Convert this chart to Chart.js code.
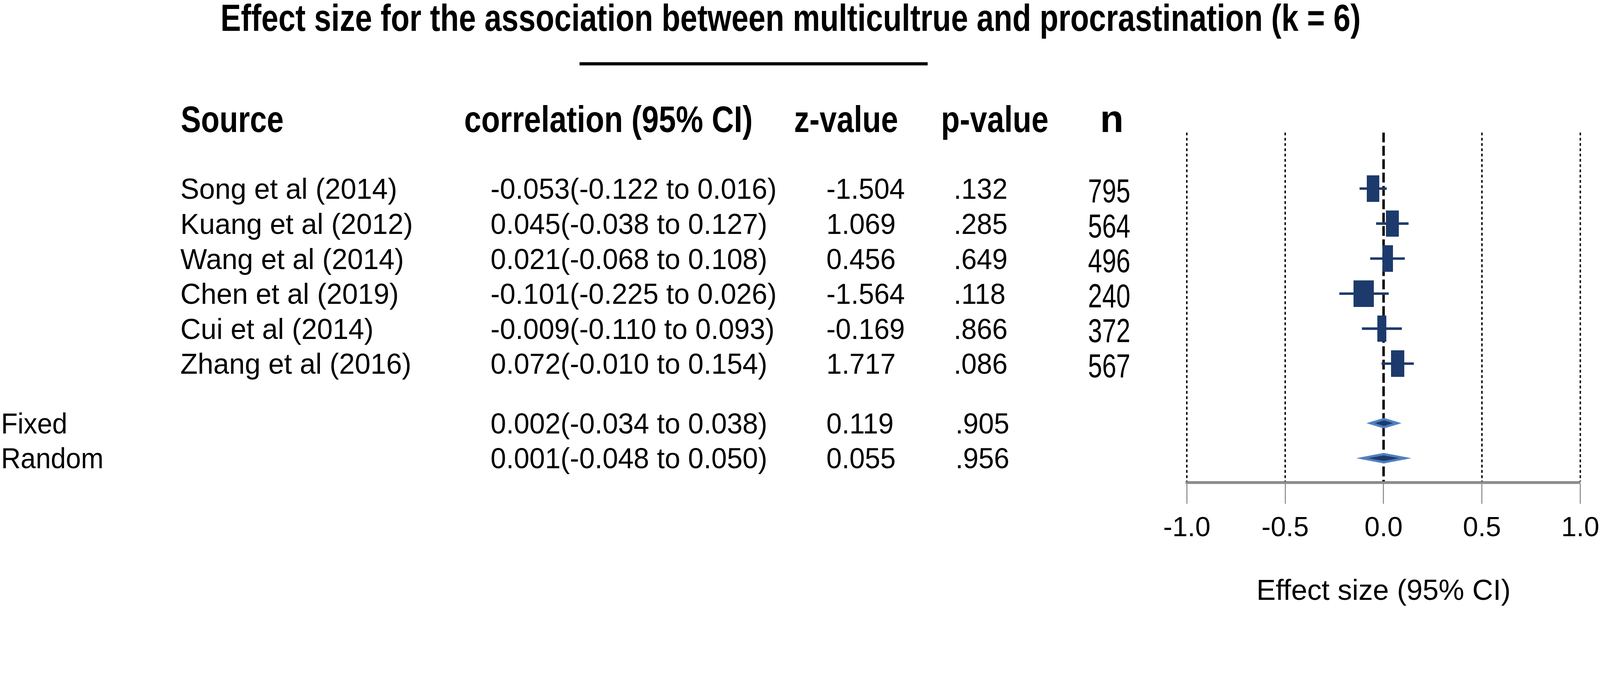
<!DOCTYPE html>
<html lang="en">
<head>
  <meta charset="UTF-8">
  <title>Multiculture and procrastination - forest plot</title>
  <script src="https://cdn.jsdelivr.net/npm/chart.js"></script>
  <style>
    html, body {
      margin: 0;
      background: #fff;
      overflow: hidden;
      font-family: "Liberation Sans", Arial, sans-serif;
    }
    #page {
      position: relative;
      width: 4550px;
      height: 1731px;
      overflow: hidden;
      transform-origin: 0 0;
    }
    #forest {
      position: absolute;
      left: 0;
      top: 0;
    }
    .cell {
      position: absolute;
      white-space: nowrap;
      line-height: 1;
      color: #000;
      transform-origin: 0 0;
    }
    .bold { font-weight: bold; }
    #rule {
      position: absolute;
      left: 1648px;
      top: 177px;
      width: 990px;
      height: 9px;
      background: #000;
    }
  </style>
</head>
<body>
  <div id="page">
    <canvas id="forest" width="4550" height="1731"></canvas>
    <div id="rule"></div>
  </div>

  <script>
    // Study rows
    const studies = ['Song et al (2014)', 'Kuang et al (2012)', 'Wang et al (2014)',
                     'Chen et al (2019)', 'Cui et al (2014)', 'Zhang et al (2016)'];
    const corr   = [-0.053, 0.045, 0.021, -0.101, -0.009, 0.072];
    const ciLow  = [-0.122, -0.038, -0.068, -0.225, -0.110, -0.010];
    const ciHigh = [0.016, 0.127, 0.108, 0.026, 0.093, 0.154];
    const zVals  = [-1.504, 1.069, 0.456, -1.564, -0.169, 1.717];
    const pVals  = [0.132, 0.285, 0.649, 0.118, 0.866, 0.086];
    const sampleN = [795, 564, 496, 240, 372, 567];

    // Pooled models
    const models    = ['Fixed', 'Random'];
    const modelCorr = [0.002, 0.001];
    const modelLow  = [-0.034, -0.048];
    const modelHigh = [0.038, 0.050];
    const modelZ    = [0.119, 0.055];
    const modelP    = [0.905, 0.956];

    // x axis ticks
    const xTicks = [-1.0, -0.5, 0.0, 0.5, 1.0];

    // ---- layout / style (not data) ----
    const FONT = '"Liberation Sans", Arial, sans-serif';
    const NAVY = '#1d3a6c';
    const LIGHT = '#4f7fc0';
    const modelRows = [6.7, 7.7];              // row slots of pooled estimates
    const boxWidths = [36, 36, 30, 57, 25, 38];  // marker box widths (px)
    const diamondSizes = [[100, 30, 52, 16], [157, 30, 88, 16]];
    const col = { source: 513, model: 3, corr: 1395, z: 2350, p: 2712, n: 3094 };

    // the whole figure is laid out on a 4550 x 1731 sheet, fitted to the window
    const page = document.getElementById('page');
    const fit = Math.min(window.innerWidth / 4550, window.innerHeight / 1731);
    page.style.transform = 'scale(' + fit + ')';

    const f3 = v => v.toFixed(3);
    const pFmt = v => v.toFixed(3).replace(/^0/, '');

    function boxImage(w, h) {
      const c = document.createElement('canvas');
      c.width = w; c.height = h;
      const g = c.getContext('2d');
      g.fillStyle = NAVY;
      g.fillRect(0, 0, w, h);
      return c;
    }

    function diamondImage(w, h, iw, ih) {
      const c = document.createElement('canvas');
      c.width = w; c.height = h;
      const g = c.getContext('2d');
      const diamond = (dw, dh, color) => {
        g.beginPath();
        g.moveTo(w / 2 - dw / 2, h / 2);
        g.lineTo(w / 2, h / 2 - dh / 2);
        g.lineTo(w / 2 + dw / 2, h / 2);
        g.lineTo(w / 2, h / 2 + dh / 2);
        g.closePath();
        g.fillStyle = color;
        g.fill();
      };
      diamond(w, h, LIGHT);
      diamond(iw, ih, NAVY);
      return c;
    }

    const boxImgs = boxWidths.map(w => boxImage(w, 75));
    const diamondImgs = diamondSizes.map(d => diamondImage(d[0], d[1], d[2], d[3]));

    // dotted reference lines at each tick, dashed line of no effect at 0
    const refLines = {
      id: 'refLines',
      beforeDatasetsDraw(chart) {
        const { ctx, chartArea, scales } = chart;
        ctx.save();
        scales.x.ticks.forEach(t => {
          const px = scales.x.getPixelForValue(t.value);
          ctx.beginPath();
          if (t.value === 0) {
            ctx.lineWidth = 7;
            ctx.setLineDash([28, 10]);
          } else {
            ctx.lineWidth = 4;
            ctx.setLineDash([8, 7]);
          }
          ctx.strokeStyle = '#000';
          ctx.moveTo(px, chartArea.top);
          ctx.lineTo(px, chartArea.bottom - 4);
          ctx.stroke();
        });
        ctx.restore();
      }
    };

    const ciSets = studies.map((s, i) => ({
      label: s + ' CI',
      data: [{ x: ciLow[i], y: i }, { x: ciHigh[i], y: i }],
      showLine: true,
      borderColor: NAVY,
      borderWidth: 7,
      pointRadius: 0
    }));

    const chart = new Chart(document.getElementById('forest'), {
      type: 'scatter',
      data: {
        datasets: [
          ...ciSets,
          {
            label: 'Studies',
            data: corr.map((c, i) => ({ x: c, y: i })),
            pointStyle: ctx => boxImgs[ctx.dataIndex],
            pointRadius: 20
          },
          {
            label: 'Pooled',
            data: modelCorr.map((c, i) => ({ x: c, y: modelRows[i] })),
            pointStyle: ctx => diamondImgs[ctx.dataIndex],
            pointRadius: 20
          }
        ]
      },
      options: {
        responsive: false,
        devicePixelRatio: fit * (window.devicePixelRatio || 1),
        animation: false,
        events: [],
        layout: { padding: { left: 3375, right: 56, top: 377, bottom: 0 } },
        plugins: {
          legend: { display: false },
          tooltip: { enabled: false }
        },
        scales: {
          x: {
            type: 'linear',
            min: -1,
            max: 1,
            afterBuildTicks: s => { s.ticks = xTicks.map(v => ({ value: v })); },
            afterFit: s => {
              s.height = 358;
              // end labels may hang into the page margin
              s.paddingLeft = 0;
              s.paddingRight = 0;
            },
            ticks: {
              callback: v => v.toFixed(1),
              font: { family: FONT, size: 78, lineHeight: 1 },
              color: '#000',
              padding: 32,
              maxRotation: 0,
              autoSkip: false
            },
            grid: {
              drawOnChartArea: false,
              drawTicks: true,
              tickLength: 60,
              tickColor: '#8c8c8c',
              tickWidth: 3
            },
            border: { display: true, color: '#8c8c8c', width: 8 },
            title: {
              display: true,
              text: 'Effect size (95% CI)',
              color: '#000',
              font: { family: FONT, size: 82, lineHeight: 1 },
              padding: { top: 0, bottom: 6 }
            }
          },
          y: {
            type: 'linear',
            reverse: true,
            min: -1.6,
            max: 8.4,
            display: false
          }
        }
      },
      plugins: [refLines]
    });

    // ---- table text, rows placed with the chart's own y scale ----
    const yScale = chart.scales.y;

    function addText(str, x, capMid, size, sx, bold) {
      const el = document.createElement('div');
      el.className = 'cell' + (bold ? ' bold' : '');
      el.textContent = str;
      el.style.left = x + 'px';
      el.style.top = (capMid - 0.4885 * size) + 'px';
      el.style.fontSize = size + 'px';
      el.style.transform = 'scaleX(' + sx + ')';
      page.appendChild(el);
    }

    // title and column headers
    addText('Effect size for the association between multicultrue and procrastination (k = 6)',
            627, 50, 108, 0.807, true);
    addText('Source', 514, 339, 104, 0.83, true);
    addText('correlation (95% CI)', 1320, 339, 104, 0.84, true);
    addText('z-value', 2258, 339, 104, 0.84, true);
    addText('p-value', 2676, 339, 104, 0.84, true);
    addText('n', 3128, 336, 110, 1, true);

    studies.forEach((s, i) => {
      const y = yScale.getPixelForValue(i);
      addText(s, col.source, y, 82, 0.98, false);
      addText(f3(corr[i]) + '(' + f3(ciLow[i]) + ' to ' + f3(ciHigh[i]) + ')', col.corr, y, 82, 0.97, false);
      addText(f3(zVals[i]), col.z, y, 82, 0.96, false);
      addText(pFmt(pVals[i]), col.p, y, 82, 0.96, false);
      addText(String(sampleN[i]), col.n, y + 5, 95, 0.76, false);
    });

    models.forEach((m, i) => {
      const y = yScale.getPixelForValue(modelRows[i]);
      addText(m, col.model, y, 82, 0.94, false);
      addText(f3(modelCorr[i]) + '(' + f3(modelLow[i]) + ' to ' + f3(modelHigh[i]) + ')', col.corr, y, 82, 0.97, false);
      addText(f3(modelZ[i]), col.z, y, 82, 0.96, false);
      addText(pFmt(modelP[i]), col.p + 5, y, 82, 0.96, false);
    });
  </script>
</body>
</html>
